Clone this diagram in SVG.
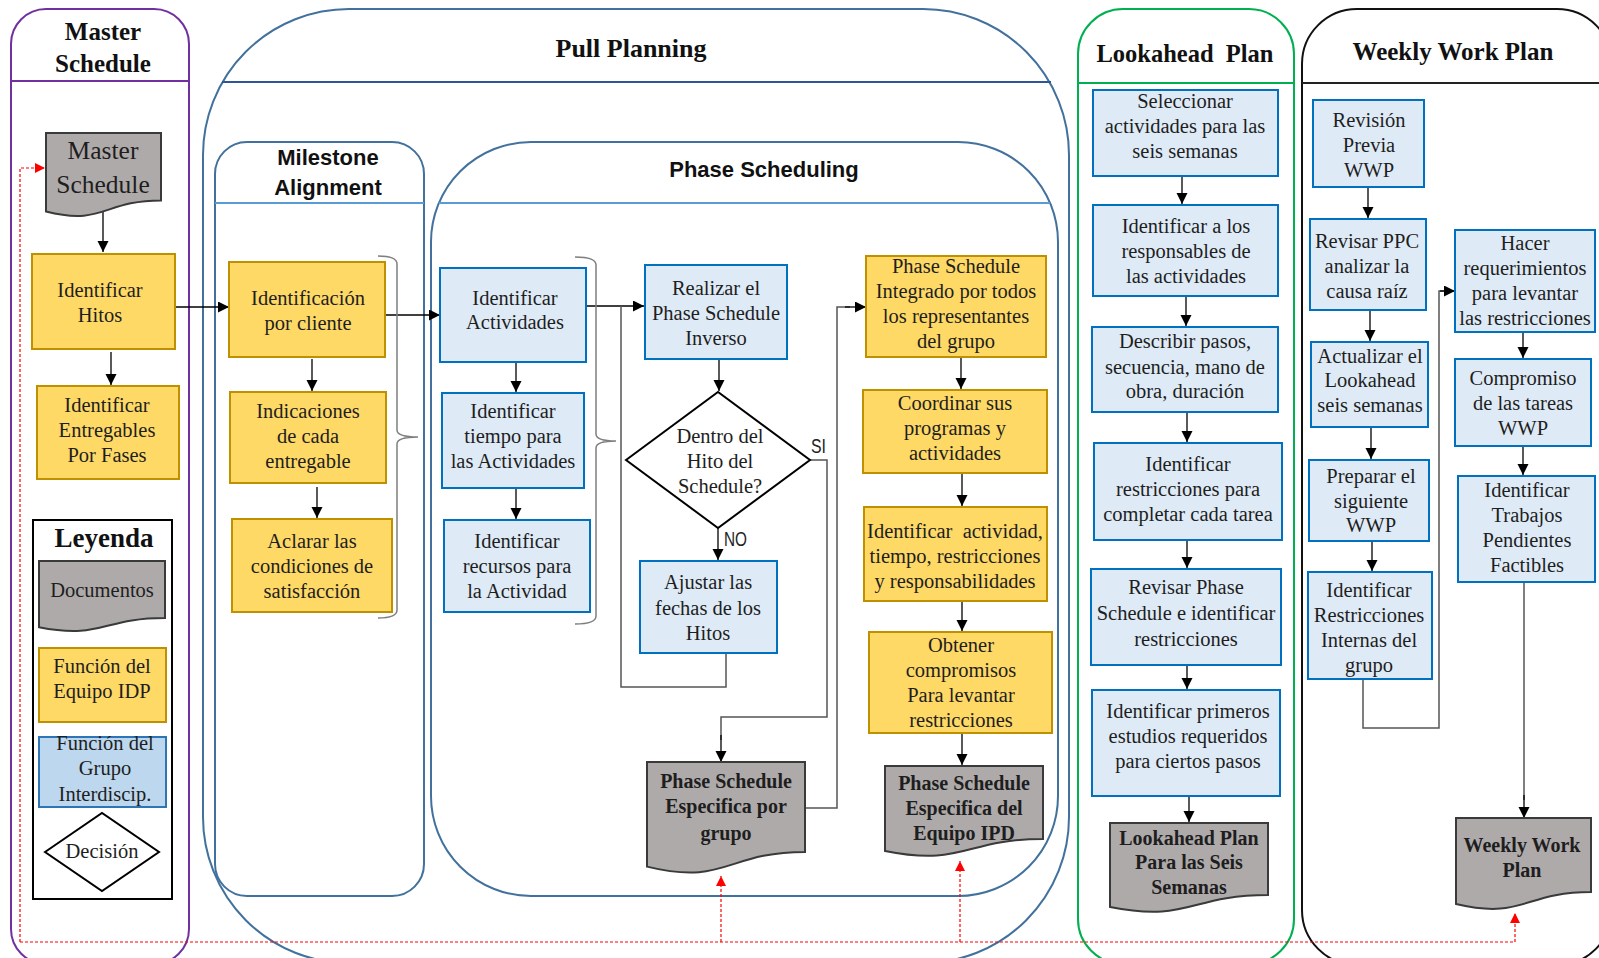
<svg xmlns="http://www.w3.org/2000/svg" width="1599" height="958" viewBox="0 0 1599 958">
<style>
.t{font-family:"Liberation Serif",serif;font-size:20.5px;fill:#1e1e1e;text-anchor:middle}
.b{font-weight:bold;font-size:20px}
.big{font-size:25.5px}
.ttl{font-family:"Liberation Serif",serif;font-weight:bold;fill:#111;text-anchor:middle}
.sans{font-family:"Liberation Sans",Arial,sans-serif;font-weight:bold;font-size:22px;fill:#111;text-anchor:middle}
.lbl{font-family:"Liberation Sans",Arial,sans-serif;font-size:20px;fill:#222}
.y{fill:#ffd966;stroke:#bf9000;stroke-width:2}
.bl{fill:#deebf7;stroke:#0070c0;stroke-width:2}
.doc{fill:#aeaaaa;stroke:#3a3a3a;stroke-width:2}
.ln{fill:none;stroke:#000;stroke-width:1.3}
.gl{fill:none;stroke:#555;stroke-width:1.5}
.br{fill:none;stroke:#7f7f7f;stroke-width:1.5}
.rd{fill:none;stroke:#ff0000;stroke-width:1.2;stroke-dasharray:3 2}
.cont{fill:none;stroke-width:2}
</style>
<defs>
<marker id="ah" markerUnits="userSpaceOnUse" markerWidth="12" markerHeight="12" refX="11" refY="5.5" orient="auto"><path d="M0,0 L11,5.5 L0,11 z" fill="#000"/></marker>
<marker id="ar" markerUnits="userSpaceOnUse" markerWidth="12" markerHeight="12" refX="10" refY="5" orient="auto"><path d="M0,0 L10,5 L0,10 z" fill="#ff0000"/></marker>
</defs>
<rect width="1599" height="958" fill="#fff"/>

<g id="lane-master">
<rect class="cont" x="11" y="9" width="178" height="955" rx="35" stroke="#7030a0"/>
<line x1="11" y1="81" x2="189" y2="81" stroke="#7030a0" stroke-width="2"/>
<text class="ttl" font-size="25"><tspan x="103" y="40">Master</tspan><tspan x="103" y="72">Schedule</tspan></text>
</g>

<g id="lane-pull">
<rect class="cont" x="203" y="9" width="866" height="954" rx="146" stroke="#41719c"/>
<line x1="222" y1="82" x2="1051" y2="82" stroke="#2f5597" stroke-width="2"/>
<text class="ttl" font-size="26" x="631" y="57">Pull Planning</text>
</g>

<g id="lane-milestone">
<rect class="cont" x="215" y="142" width="209" height="754" rx="32" stroke="#41719c"/>
<line x1="215" y1="203" x2="424" y2="203" stroke="#5b9bd5" stroke-width="2"/>
<text class="sans"><tspan x="328" y="165">Milestone</tspan><tspan x="328" y="195">Alignment</tspan></text>
</g>

<g id="lane-phase">
<rect class="cont" x="431" y="142" width="627" height="754" rx="100" stroke="#41719c"/>
<line x1="439" y1="203" x2="1050" y2="203" stroke="#5b9bd5" stroke-width="2"/>
<text class="sans" x="764" y="177">Phase Scheduling</text>
</g>

<g id="lane-lookahead">
<rect class="cont" x="1078" y="9" width="216" height="955" rx="45" stroke="#00b050"/>
<line x1="1078" y1="83" x2="1294" y2="83" stroke="#00b050" stroke-width="2"/>
<text class="ttl" font-size="24.5" x="1185" y="62" xml:space="preserve">Lookahead  Plan</text>
</g>

<g id="lane-weekly">
<rect class="cont" x="1302" y="9" width="310" height="956" rx="55" stroke="#111"/>
<line x1="1302" y1="83" x2="1599" y2="83" stroke="#222" stroke-width="2"/>
<text class="ttl" font-size="25" x="1453" y="60">Weekly Work Plan</text>
</g>

<g id="connectors">
<path class="ln" d="M103 212 V252" marker-end="url(#ah)"/>
<path class="ln" d="M111 352 V385" marker-end="url(#ah)"/>
<path class="ln" d="M175 307 H229" marker-end="url(#ah)"/>
<path class="ln" d="M312 359 V391" marker-end="url(#ah)"/>
<path class="ln" d="M317 487 V518" marker-end="url(#ah)"/>
<path class="ln" d="M385 315 H440" marker-end="url(#ah)"/>
<path class="ln" d="M516 362 V392" marker-end="url(#ah)"/>
<path class="ln" d="M516 488 V519" marker-end="url(#ah)"/>
<path class="ln" d="M586 306 H644" marker-end="url(#ah)"/>
<path class="gl" d="M726 653 V687 H621 V306"/>
<path class="ln" d="M719 359 V391" marker-end="url(#ah)"/>
<path class="ln" d="M718 528 V560" marker-end="url(#ah)"/>
<path class="gl" d="M810 460 H827 V717 H721 V740"/>
<path class="ln" d="M721 735 V762" marker-end="url(#ah)"/>
<path class="gl" d="M805 808 H837 V307 H850"/>
<path class="ln" d="M845 307 H866" marker-end="url(#ah)"/>
<path class="ln" d="M961 357 V389" marker-end="url(#ah)"/>
<path class="ln" d="M962 473 V506" marker-end="url(#ah)"/>
<path class="ln" d="M962 601 V631" marker-end="url(#ah)"/>
<path class="ln" d="M962 733 V765" marker-end="url(#ah)"/>
<path class="ln" d="M1182 176 V204" marker-end="url(#ah)"/>
<path class="ln" d="M1186 296 V326" marker-end="url(#ah)"/>
<path class="ln" d="M1187 412 V442" marker-end="url(#ah)"/>
<path class="ln" d="M1187 540 V568" marker-end="url(#ah)"/>
<path class="ln" d="M1187 665 V689" marker-end="url(#ah)"/>
<path class="ln" d="M1189 796 V822" marker-end="url(#ah)"/>
<path class="ln" d="M1368 187 V218" marker-end="url(#ah)"/>
<path class="ln" d="M1370 310 V341" marker-end="url(#ah)"/>
<path class="ln" d="M1371 427 V459" marker-end="url(#ah)"/>
<path class="ln" d="M1372 541 V571" marker-end="url(#ah)"/>
<path class="gl" d="M1363 679 V728 H1439 V291 H1445"/>
<path class="ln" d="M1440 291 H1455" marker-end="url(#ah)"/>
<path class="ln" d="M1523 332 V358" marker-end="url(#ah)"/>
<path class="ln" d="M1523 446 V475" marker-end="url(#ah)"/>
<path class="gl" d="M1524 582 V800"/>
<path class="ln" d="M1524 795 V818" marker-end="url(#ah)"/>
<path class="br" d="M378 256 Q397 256 397 264 V430 Q397 437 418 437 Q397 437 397 444 V610 Q397 618 378 618"/>
<path class="br" d="M575 257 Q596 257 596 265 V434 Q596 441 616 441 Q596 441 596 448 V616 Q596 624 575 624"/>
<path class="rd" d="M20 942 V168 H45" marker-end="url(#ar)"/>
<path class="rd" d="M20 942 H1515 V913" marker-end="url(#ar)"/>
<path class="rd" d="M721 942 V876" marker-end="url(#ar)"/>
<path class="rd" d="M960 942 V861" marker-end="url(#ar)"/>
<text class="lbl" x="811" y="453" textLength="15" lengthAdjust="spacingAndGlyphs">SI</text>
<text class="lbl" x="724" y="546" textLength="23" lengthAdjust="spacingAndGlyphs">NO</text>
</g>

<g id="n-master-doc">
<path class="doc" d="M46 133 H161 V200.4 C103.5 200.4 103.5 226 46 211.5 Z"/>
<text class="t big"><tspan x="103" y="159">Master</tspan><tspan x="103" y="193">Schedule</tspan></text>
</g>
<g id="n-hitos">
<rect class="y" x="32" y="254" width="143" height="95"/>
<text class="t"><tspan x="100" y="297">Identificar</tspan><tspan x="100" y="322">Hitos</tspan></text>
</g>
<g id="n-entregables">
<rect class="y" x="37" y="386" width="142" height="93"/>
<text class="t"><tspan x="107" y="412">Identificar</tspan><tspan x="107" y="437">Entregables</tspan><tspan x="107" y="462">Por Fases</tspan></text>
</g>
<g id="legend">
<rect x="33" y="520" width="139" height="379" fill="#fff" stroke="#000" stroke-width="2"/>
<text class="ttl" font-size="27" x="104" y="547">Leyenda</text>
<path class="doc" d="M39 561 H165 V618 C102 618 102 639.6 39 627.3 Z"/>
<text class="t" x="102" y="597">Documentos</text>
<rect class="y" x="39" y="648" width="127" height="74"/>
<text class="t"><tspan x="102" y="673">Función del</tspan><tspan x="102" y="698">Equipo IDP</tspan></text>
<rect x="39" y="737" width="127" height="70" fill="#bdd7ee" stroke="#2e75b6" stroke-width="2"/>
<text class="t"><tspan x="105" y="750">Función del</tspan><tspan x="105" y="775">Grupo</tspan><tspan x="105" y="801">Interdiscip.</tspan></text>
<path d="M45 852 L102 813 L159 852 L102 891 Z" fill="#fff" stroke="#000" stroke-width="2"/>
<text class="t" x="102" y="858">Decisión</text>
</g>

<g id="n-identificacion">
<rect class="y" x="229" y="262" width="156" height="95"/>
<text class="t"><tspan x="308" y="305">Identificación</tspan><tspan x="308" y="330">por cliente</tspan></text>
</g>
<g id="n-indicaciones">
<rect class="y" x="230" y="392" width="156" height="91"/>
<text class="t"><tspan x="308" y="418">Indicaciones</tspan><tspan x="308" y="443">de cada</tspan><tspan x="308" y="468">entregable</tspan></text>
</g>
<g id="n-aclarar">
<rect class="y" x="232" y="519" width="160" height="93"/>
<text class="t"><tspan x="312" y="548">Aclarar las</tspan><tspan x="312" y="573">condiciones de</tspan><tspan x="312" y="598">satisfacción</tspan></text>
</g>

<g id="n-actividades">
<rect class="bl" x="440" y="268" width="146" height="94"/>
<text class="t"><tspan x="515" y="305">Identificar</tspan><tspan x="515" y="329">Actividades</tspan></text>
</g>
<g id="n-tiempo">
<rect class="bl" x="442" y="393" width="142" height="95"/>
<text class="t"><tspan x="513" y="418">Identificar</tspan><tspan x="513" y="443">tiempo para</tspan><tspan x="513" y="468">las Actividades</tspan></text>
</g>
<g id="n-recursos">
<rect class="bl" x="444" y="520" width="146" height="92"/>
<text class="t"><tspan x="517" y="548">Identificar</tspan><tspan x="517" y="573">recursos para</tspan><tspan x="517" y="598">la Actividad</tspan></text>
</g>
<g id="n-realizar">
<rect class="bl" x="645" y="265" width="142" height="94"/>
<text class="t"><tspan x="716" y="295">Realizar el</tspan><tspan x="716" y="320">Phase Schedule</tspan><tspan x="716" y="345">Inverso</tspan></text>
</g>
<g id="n-decision">
<path d="M626 460 L718 392 L810 460 L718 528 Z" fill="#fff" stroke="#000" stroke-width="2"/>
<text class="t"><tspan x="720" y="443">Dentro del</tspan><tspan x="720" y="468">Hito del</tspan><tspan x="720" y="493">Schedule?</tspan></text>
</g>
<g id="n-ajustar">
<rect class="bl" x="640" y="561" width="137" height="92"/>
<text class="t"><tspan x="708" y="589">Ajustar las</tspan><tspan x="708" y="615">fechas de los</tspan><tspan x="708" y="640">Hitos</tspan></text>
</g>
<g id="n-ps-grupo">
<path class="doc" d="M647 762 H805 V852 C726 852 726 886 647 866.6 Z"/>
<text class="t b"><tspan x="726" y="788">Phase Schedule</tspan><tspan x="726" y="813">Especifica por</tspan><tspan x="726" y="840">grupo</tspan></text>
</g>
<g id="n-integrado">
<rect class="y" x="866" y="256" width="180" height="101"/>
<text class="t"><tspan x="956" y="273">Phase Schedule</tspan><tspan x="956" y="298">Integrado por todos</tspan><tspan x="956" y="323">los representantes</tspan><tspan x="956" y="348">del grupo</tspan></text>
</g>
<g id="n-coordinar">
<rect class="y" x="863" y="390" width="184" height="83"/>
<text class="t"><tspan x="955" y="410">Coordinar sus</tspan><tspan x="955" y="435">programas y</tspan><tspan x="955" y="460">actividades</tspan></text>
</g>
<g id="n-identificar-act">
<rect class="y" x="864" y="507" width="183" height="94"/>
<text class="t" xml:space="preserve"><tspan x="955" y="538">Identificar  actividad,</tspan><tspan x="955" y="563">tiempo, restricciones</tspan><tspan x="955" y="588">y responsabilidades</tspan></text>
</g>
<g id="n-obtener">
<rect class="y" x="869" y="632" width="183" height="101"/>
<text class="t"><tspan x="961" y="652">Obtener</tspan><tspan x="961" y="677">compromisos</tspan><tspan x="961" y="702">Para levantar</tspan><tspan x="961" y="727">restricciones</tspan></text>
</g>
<g id="n-ps-ipd">
<path class="doc" d="M885 766 H1043 V839 C964 839 964 866.8 885 851 Z"/>
<text class="t b"><tspan x="964" y="790">Phase Schedule</tspan><tspan x="964" y="815">Especifica del</tspan><tspan x="964" y="840">Equipo IPD</tspan></text>
</g>

<g id="n-seleccionar">
<rect class="bl" x="1093" y="90" width="185" height="86"/>
<text class="t"><tspan x="1185" y="108">Seleccionar</tspan><tspan x="1185" y="133">actividades para las</tspan><tspan x="1185" y="158">seis semanas</tspan></text>
</g>
<g id="n-responsables">
<rect class="bl" x="1093" y="205" width="185" height="91"/>
<text class="t"><tspan x="1186" y="233">Identificar a los</tspan><tspan x="1186" y="258">responsables de</tspan><tspan x="1186" y="283">las actividades</tspan></text>
</g>
<g id="n-describir">
<rect class="bl" x="1092" y="327" width="186" height="85"/>
<text class="t"><tspan x="1185" y="348">Describir pasos,</tspan><tspan x="1185" y="374">secuencia, mano de</tspan><tspan x="1185" y="398">obra, duración</tspan></text>
</g>
<g id="n-restricciones">
<rect class="bl" x="1094" y="443" width="188" height="97"/>
<text class="t"><tspan x="1188" y="471">Identificar</tspan><tspan x="1188" y="496">restricciones para</tspan><tspan x="1188" y="521">completar cada tarea</tspan></text>
</g>
<g id="n-revisar-ps">
<rect class="bl" x="1091" y="569" width="190" height="96"/>
<text class="t"><tspan x="1186" y="594">Revisar Phase</tspan><tspan x="1186" y="620">Schedule e identificar</tspan><tspan x="1186" y="646">restricciones</tspan></text>
</g>
<g id="n-primeros">
<rect class="bl" x="1092" y="690" width="188" height="106"/>
<text class="t"><tspan x="1188" y="718">Identificar primeros</tspan><tspan x="1188" y="743">estudios requeridos</tspan><tspan x="1188" y="768">para ciertos pasos</tspan></text>
</g>
<g id="n-lookahead-doc">
<path class="doc" d="M1110 823 H1268 V895 C1189 895 1189 922.7 1110 907 Z"/>
<text class="t b"><tspan x="1189" y="845">Lookahead Plan</tspan><tspan x="1189" y="869">Para las Seis</tspan><tspan x="1189" y="894">Semanas</tspan></text>
</g>

<g id="n-revision">
<rect class="bl" x="1313" y="100" width="111" height="87"/>
<text class="t"><tspan x="1369" y="127">Revisión</tspan><tspan x="1369" y="152">Previa</tspan><tspan x="1369" y="177">WWP</tspan></text>
</g>
<g id="n-ppc">
<rect class="bl" x="1310" y="219" width="116" height="91"/>
<text class="t"><tspan x="1367" y="248">Revisar PPC</tspan><tspan x="1367" y="273">analizar la</tspan><tspan x="1367" y="298">causa raíz</tspan></text>
</g>
<g id="n-actualizar">
<rect class="bl" x="1311" y="342" width="117" height="85"/>
<text class="t"><tspan x="1370" y="363">Actualizar el</tspan><tspan x="1370" y="387">Lookahead</tspan><tspan x="1370" y="412">seis semanas</tspan></text>
</g>
<g id="n-preparar">
<rect class="bl" x="1309" y="460" width="120" height="81"/>
<text class="t"><tspan x="1371" y="483">Preparar el</tspan><tspan x="1371" y="508">siguiente</tspan><tspan x="1371" y="532">WWP</tspan></text>
</g>
<g id="n-internas">
<rect class="bl" x="1308" y="572" width="124" height="107"/>
<text class="t"><tspan x="1369" y="597">Identificar</tspan><tspan x="1369" y="622">Restricciones</tspan><tspan x="1369" y="647">Internas del</tspan><tspan x="1369" y="672">grupo</tspan></text>
</g>
<g id="n-hacer">
<rect class="bl" x="1455" y="230" width="140" height="102"/>
<text class="t"><tspan x="1525" y="250">Hacer</tspan><tspan x="1525" y="275">requerimientos</tspan><tspan x="1525" y="300">para levantar</tspan><tspan x="1525" y="325">las restricciones</tspan></text>
</g>
<g id="n-compromiso">
<rect class="bl" x="1455" y="359" width="136" height="87"/>
<text class="t"><tspan x="1523" y="385">Compromiso</tspan><tspan x="1523" y="410">de las tareas</tspan><tspan x="1523" y="435">WWP</tspan></text>
</g>
<g id="n-trabajos">
<rect class="bl" x="1458" y="476" width="137" height="106"/>
<text class="t"><tspan x="1527" y="497">Identificar</tspan><tspan x="1527" y="522">Trabajos</tspan><tspan x="1527" y="547">Pendientes</tspan><tspan x="1527" y="572">Factibles</tspan></text>
</g>
<g id="n-wwp-doc">
<path class="doc" d="M1456 818 H1591 V892 C1523.5 892 1523.5 919.9 1456 904 Z"/>
<text class="t b"><tspan x="1522" y="852">Weekly Work</tspan><tspan x="1522" y="877">Plan</tspan></text>
</g>
</svg>
